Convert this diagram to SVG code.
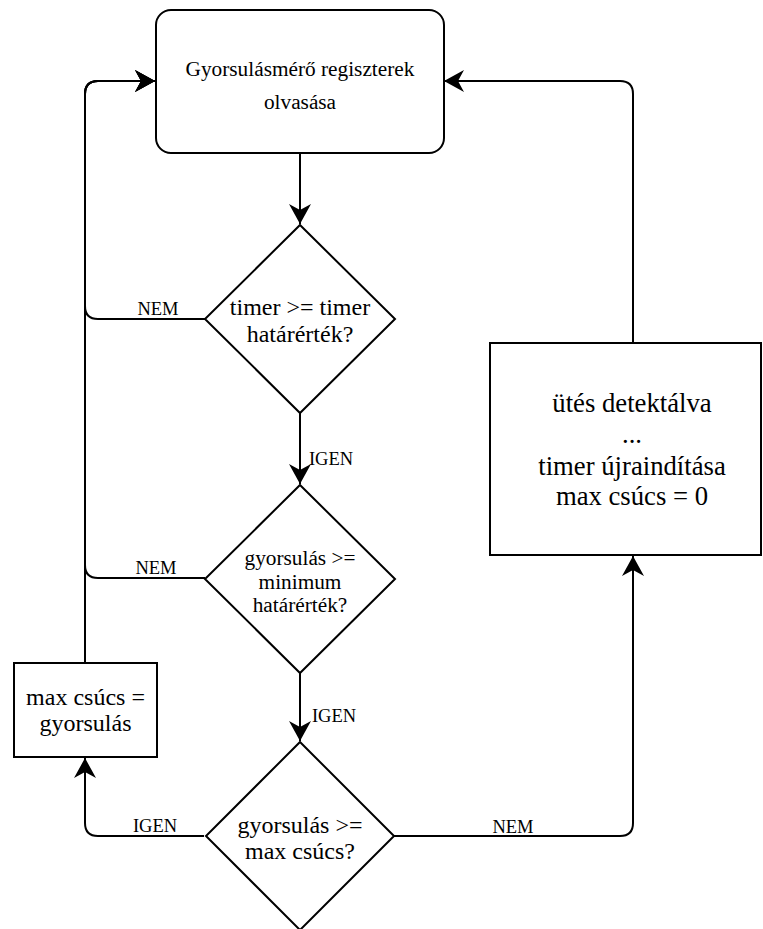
<svg xmlns="http://www.w3.org/2000/svg" width="763" height="929" viewBox="0 0 763 929">
  <style>
    .shape { fill: #ffffff; stroke: #000000; stroke-width: 2; }
    .conn { fill: none; stroke: #000000; stroke-width: 2; }
    .t16 { font-size: 21.3px; }
    .t18 { font-size: 24px; }
    .t20 { font-size: 26.7px; }
    .lbl { font-size: 18.5px; }
  </style>
  <defs>
    <marker id="arrow" markerUnits="userSpaceOnUse" viewBox="0 0 20 22" markerWidth="20" markerHeight="22" refX="20" refY="11" orient="auto">
      <path d="M20,11 L0,0 L6,11 L0,22 Z" fill="#000000"/>
    </marker>
  </defs>

  <g font-family="'Liberation Serif', 'Times New Roman', 'DejaVu Serif', serif" fill="#000000" text-anchor="middle">
  <g id="connectors">
    <path class="conn" d="M300,153 L300,224" marker-end="url(#arrow)"/>
    <path class="conn" d="M300,413 L300,484" marker-end="url(#arrow)"/>
    <path class="conn" d="M300,673 L300,741" marker-end="url(#arrow)"/>
    <path class="conn" d="M205,319 L98,319 Q85,319 85,306 L85,94 Q85,81 98,81 L155,81" marker-end="url(#arrow)"/>
    <path class="conn" d="M205,578 L98,578 Q85,578 85,565 L85,94 Q85,81 98,81 L155,81" marker-end="url(#arrow)"/>
    <path class="conn" d="M85,663 L85,94 Q85,81 98,81 L155,81" marker-end="url(#arrow)"/>
    <path class="conn" d="M204,836 L98,836 Q85,836 85,823 L85,758" marker-end="url(#arrow)"/>
    <path class="conn" d="M394,836 L620,836 Q633,836 633,823 L633,556" marker-end="url(#arrow)"/>
    <path class="conn" d="M633,343 L633,94 Q633,81 620,81 L444,81" marker-end="url(#arrow)"/>
    <text class="lbl" x="158" y="315">NEM</text>
    <text class="lbl" x="156" y="574">NEM</text>
    <text class="lbl" x="331" y="465">IGEN</text>
    <text class="lbl" x="334" y="722">IGEN</text>
    <text class="lbl" x="155" y="832">IGEN</text>
    <text class="lbl" x="513" y="833">NEM</text>
  </g>

  <g id="read-registers">
    <rect class="shape" x="156" y="10" width="288" height="143" rx="15" ry="15"/>
    <text class="t16" x="300" y="76">Gyorsulásmérő regiszterek</text>
    <text class="t16" x="300" y="109">olvasása</text>
  </g>

  <g id="timer-check">
    <polygon class="shape" points="300,225 395,319 300,413 205,319"/>
    <text class="t18" x="300" y="315">timer &gt;= timer</text>
    <text class="t18" x="300" y="342">határérték?</text>
  </g>

  <g id="min-threshold-check">
    <polygon class="shape" points="300,485 395,579 300,673 205,579"/>
    <text class="t16" x="300" y="565">gyorsulás &gt;=</text>
    <text class="t16" x="300" y="589">minimum</text>
    <text class="t16" x="300" y="612">határérték?</text>
  </g>

  <g id="max-peak-check">
    <polygon class="shape" points="300,742 394,836 300,930 206,836"/>
    <text class="t18" x="300" y="833">gyorsulás &gt;=</text>
    <text class="t18" x="300" y="859">max csúcs?</text>
  </g>

  <g id="set-max-peak">
    <rect class="shape" x="14" y="663" width="143" height="94"/>
    <text class="t18" x="85.5" y="705">max csúcs =</text>
    <text class="t18" x="85.5" y="731">gyorsulás</text>
  </g>

  <g id="hit-detected">
    <rect class="shape" x="490" y="343" width="271" height="212"/>
    <text class="t20" x="632" y="412">ütés detektálva</text>
    <text class="t20" x="632" y="443">...</text>
    <text class="t20" x="632" y="475">timer újraindítása</text>
    <text class="t20" x="632" y="505">max csúcs = 0</text>
  </g>
  </g>
</svg>
